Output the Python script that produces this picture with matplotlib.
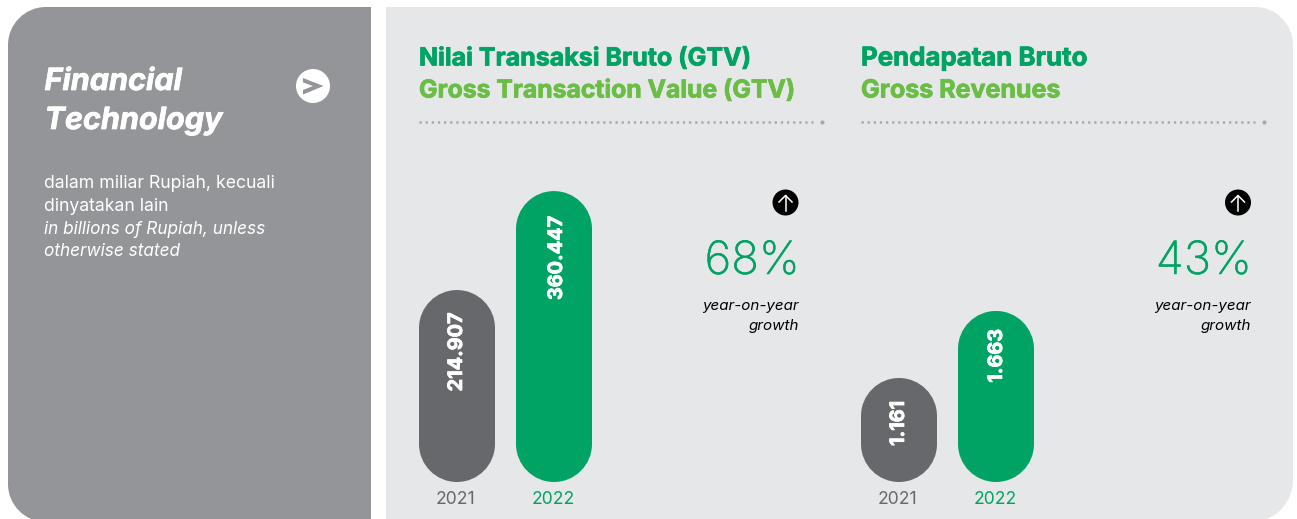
import matplotlib
matplotlib.use("Agg")
import matplotlib.pyplot as plt
import matplotlib.patheffects as pe
from matplotlib.patches import PathPatch, Circle, Polygon
from matplotlib.path import Path
from matplotlib.transforms import IdentityTransform, offset_copy

W, H = 1297, 519
FONT = "Inter"

years = ["2021", "2022"]
gtv_values = [214907, 360447]
gtv_labels = ["214.907", "360.447"]
revenue_values = [1161, 1663]
revenue_labels = ["1.161", "1.663"]
gtv_title = ["Nilai Transaksi Bruto (GTV)", "Gross Transaction Value (GTV)"]
revenue_title = ["Pendapatan Bruto", "Gross Revenues"]
growth = ["68%", "43%"]
growth_caption = ["year-on-year", "growth"]

GRAY_PANEL = "#939598"
LIGHT_PANEL = "#E6E7E8"
DARK_BAR = "#67686C"
GREEN = "#00A363"
LIGHT_GREEN = "#6ABD45"
RULE = "#A7A9AC"

fig = plt.figure(figsize=(W / 100, H / 100), dpi=100, facecolor="white")
bg = fig.add_axes([0, 0, 1, 1])
bg.set_xlim(0, W)
bg.set_ylim(H, 0)
bg.axis("off")


def rounded_path(x0, y0, x1, y1, r00=0, r10=0, r11=0, r01=0):
    """Closed outline with true circular corners; r_ij is the corner at (x_i, y_j)."""
    k = 0.5523
    sy = 1 if y1 > y0 else -1
    v = [(x0 + r00, y0), (x1 - r10, y0)]
    c = [Path.MOVETO, Path.LINETO]
    if r10:
        v += [(x1 - r10 + k * r10, y0), (x1, y0 + sy * (r10 - k * r10)), (x1, y0 + sy * r10)]
        c += [Path.CURVE4] * 3
    v.append((x1, y1 - sy * r11)); c.append(Path.LINETO)
    if r11:
        v += [(x1, y1 - sy * (r11 - k * r11)), (x1 - r11 + k * r11, y1), (x1 - r11, y1)]
        c += [Path.CURVE4] * 3
    v.append((x0 + r01, y1)); c.append(Path.LINETO)
    if r01:
        v += [(x0 + r01 - k * r01, y1), (x0, y1 - sy * (r01 - k * r01)), (x0, y1 - sy * r01)]
        c += [Path.CURVE4] * 3
    v.append((x0, y0 + sy * r00)); c.append(Path.LINETO)
    if r00:
        v += [(x0, y0 + sy * (r00 - k * r00)), (x0 + r00 - k * r00, y0), (x0 + r00, y0)]
        c += [Path.CURVE4] * 3
    return Path(v, c)


bg.add_patch(PathPatch(rounded_path(8, 7, 371, 522, r00=38, r01=38), fc=GRAY_PANEL, ec="none"))
bg.add_patch(PathPatch(rounded_path(386, 7, 1293, 522, r10=38, r11=42), fc=LIGHT_PANEL, ec="none"))

bold_fx = [pe.withStroke(linewidth=0.55, foreground="white")]

# left panel text
bg.text(44.5, 82, "Financial", color="white", fontsize=22, fontweight="bold", style="italic",
        family=FONT, va="center", path_effects=bold_fx)
bg.text(44.5, 121, "Technology", color="white", fontsize=22, fontweight="bold", style="italic",
        family=FONT, va="center", path_effects=bold_fx)
for y, t, st, fs in [(184, "dalam miliar Rupiah, kecuali", "normal", 12.7),
                     (206.5, "dinyatakan lain", "normal", 12.7),
                     (229.5, "in billions of Rupiah, unless", "italic", 12.4),
                     (252, "otherwise stated", "italic", 12.4)]:
    bg.text(44, y, t, color="white", fontsize=fs, style=st, family=FONT, va="center")

# chevron badge
bg.add_patch(Circle((313, 86), 17, fc="white", ec="none"))
bg.add_patch(Polygon([(303, 78), (323.5, 86), (303, 94.5), (303, 90), (313, 86), (303, 82.5)],
                     fc=GRAY_PANEL, ec="none"))


def chart(x_left, titles, title_sizes, values, labels, label_dx, label_dy, year_dx, base, top_val,
          growth_txt, x_right, x_badge):
    for y, t, col, fs in [(59, titles[0], GREEN, title_sizes[0]), (91, titles[1], LIGHT_GREEN, title_sizes[1])]:
        bg.text(x_left, y, t, color=col, fontsize=fs, fontweight="bold", family=FONT, va="center",
                path_effects=[pe.withStroke(linewidth=0.55, foreground=col)])
    bg.plot([x_left, x_left + 394], [122, 122], color=RULE, lw=1.8, ls=(0, (0.9, 1.55)), dash_capstyle="butt")
    bg.plot([x_left + 403], [122], marker="o", ms=3, color=RULE, mec="none")

    # truncated value axis: its foot is pixel row 482
    ax = fig.add_axes([x_left / W, (H - 482) / H, 190 / W, (482 - 100) / H])
    ax.axis("off")
    ax.set_xlim(0, 190)
    ax.set_ylim(base, top_val)
    bars = ax.bar([38, 135], [v - base for v in values], bottom=base, width=76,
                  color=[DARK_BAR, GREEN], linewidth=0)
    for rect, lab, yr, col, dx, dy, ydx in zip(bars, labels, years, [DARK_BAR, GREEN], label_dx, label_dy, year_dx):
        (px0, py0), (px1, py1) = ax.transData.transform(
            [(rect.get_x(), rect.get_y()), (rect.get_x() + rect.get_width(), rect.get_y() + rect.get_height())])
        r = (px1 - px0) / 2
        clip = PathPatch(rounded_path(px0, py0, px1, py1, r, r, r, r), transform=IdentityTransform())
        rect.set_clip_path(clip)
        xc = rect.get_x() + rect.get_width() / 2
        ytop = rect.get_y() + rect.get_height()
        ax.text(xc, ytop, lab, rotation=90, color="white", fontsize=14.3, fontweight="bold", family=FONT,
                ha="center", va="top",
                transform=offset_copy(ax.transData, fig=fig, x=dx, y=-dy, units="dots"),
                path_effects=bold_fx)
        ax.annotate(yr, (xc, base), xytext=(ydx, -18 * 0.72), textcoords="offset points", color=col,
                    fontsize=12.6, family=FONT, ha="center", va="center", annotation_clip=False)

    bg.add_patch(Circle((x_badge, 202.5), 13, fc="black", ec="none"))
    bg.plot([x_badge, x_badge], [196, 211], color="white", lw=1.1)
    bg.plot([x_badge - 6.5, x_badge, x_badge + 6.5], [202, 195.5, 202], color="white", lw=1.1)
    bg.text(x_right + 1, 262, growth_txt, color=GREEN, fontsize=33, family=FONT, fontweight="light",
            ha="right", va="center", path_effects=[pe.withStroke(linewidth=0.35, foreground=GREEN)])
    for y, t in zip([306, 326], growth_caption):
        bg.text(x_right, y, t, color="black", fontsize=10.9, style="italic", family=FONT, ha="right", va="center")


chart(419, gtv_title, [18, 17.8], gtv_values, gtv_labels, [0, 3], [22.5, 25], [-1.3, -0.3],
      -67400, 494400, growth[0], 799, 785.5)
chart(861, revenue_title, [18.6, 18], revenue_values, revenue_labels, [0, 1], [23, 18], [-1.3, -0.3],
      382, 3243, growth[1], 1251, 1238)

fig.savefig("out.png", dpi=100)
